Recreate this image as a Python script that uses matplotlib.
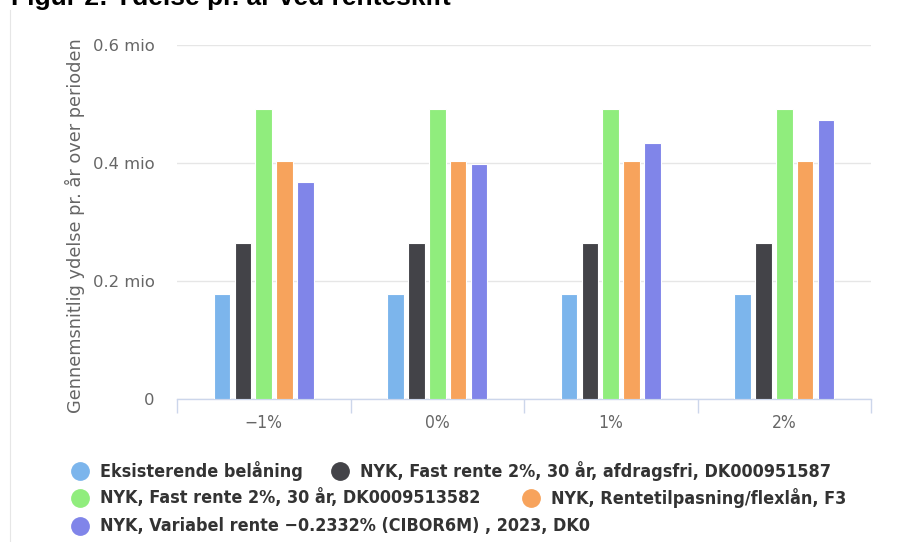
import numpy as np
import matplotlib.pyplot as plt
from matplotlib.lines import Line2D
from matplotlib.ticker import FuncFormatter, FixedLocator

# scenarios for the change in interest rate
scenarios = ['−1%', '0%', '1%', '2%']

# average payment per year, in millions
eksisterende = [0.178, 0.178, 0.178, 0.178]
fast_afdragsfri = [0.264, 0.264, 0.264, 0.264]
fast_30 = [0.491, 0.491, 0.491, 0.491]
flexlaan_f3 = [0.403, 0.403, 0.403, 0.403]
variabel = [0.367, 0.398, 0.434, 0.473]

series_names = [
    'Eksisterende belåning',
    'NYK, Fast rente 2%, 30 år, afdragsfri, DK000951587',
    'NYK, Fast rente 2%, 30 år, DK0009513582',
    'NYK, Rentetilpasning/flexlån, F3',
    'NYK, Variabel rente −0.2332% (CIBOR6M) , 2023, DK0',
]
series_values = [eksisterende, fast_afdragsfri, fast_30, flexlaan_f3, variabel]
colors = ['#7cb5ec', '#434348', '#90ed7d', '#f7a35c', '#8085e9']

W, H = 901, 542
fig = plt.figure(figsize=(W / 100, H / 100), dpi=100)
fig.patch.set_facecolor('white')

def px(x, y):
    return x / W, 1 - y / H

ax = fig.add_axes([177 / W, 1 - 399 / H, (871 - 177) / W, (399 - 45) / H])

x = np.arange(len(scenarios))
for i, (vals, c) in enumerate(zip(series_values, colors)):
    ax.bar(x + (i - 2) * 0.12, vals, width=0.096, color=c,
           edgecolor='white', linewidth=0.8, zorder=3)

ax.set_xlim(-0.5, len(scenarios) - 0.5)
ax.set_ylim(0, 0.6)

for s in ['top', 'right', 'left']:
    ax.spines[s].set_visible(False)
ax.spines['bottom'].set_color('#ccd6eb')
ax.spines['bottom'].set_linewidth(1)

# y axis
ax.set_yticks([0, 0.2, 0.4, 0.6])
ax.yaxis.set_major_formatter(FuncFormatter(lambda v, p: '0' if v == 0 else f'{v:.1f} mio'))
ax.tick_params(axis='y', length=0, pad=16, labelsize=11.8, labelcolor='#666666')
ax.grid(axis='y', color='#e6e6e6', linewidth=1, zorder=0)
ax.set_axisbelow(True)

ax.set_ylabel('Gennemsnitlig ydelse pr. år over perioden', fontsize=12.8,
              color='#666666')
ax.yaxis.set_label_coords((75 - 177) / (871 - 177), 0.49)
ax.yaxis.label.set_va('center')

# x axis: boundary ticks, labels at category centres
ax.xaxis.set_major_locator(FixedLocator(np.arange(-0.5, len(scenarios), 1)))
ax.xaxis.set_minor_locator(FixedLocator(x))
ax.set_xticklabels([])
ax.set_xticklabels(scenarios, minor=True)
ax.tick_params(axis='x', which='major', length=10, width=1, color='#ccd6eb')
ax.tick_params(axis='x', which='minor', length=0, pad=11, labelsize=12.5,
               labelcolor='#666666')
for lbl in ax.get_xticklabels(minor=True):
    lbl.set_fontstretch('condensed')

# title, cut off at the top edge
fig.text(*px(11, 5), 'Figur 2: Ydelse pr. år ved renteskift', fontsize=19,
         fontweight='bold', family=['Liberation Sans', 'DejaVu Sans'],
         va='baseline', ha='left', color='black')

# thin container border on the left
fig.add_artist(Line2D([9.5 / W, 9.5 / W], [0, 1 - 10 / H], color='#e6e6e6',
                      linewidth=0.8))

# legend laid out in flowing rows
legend_pos = [(80, 471), (340, 471), (80, 498), (531, 498), (80, 526)]
for (lx, ly), name, c in zip(legend_pos, series_names, colors):
    fx, fy = px(lx, ly)
    fig.add_artist(Line2D([fx], [fy], marker='o', markersize=12.5,
                          markerfacecolor=c, markeredgecolor=c, linestyle='none'))
    tx, ty = px(lx + 20, ly)
    fig.text(tx, ty, name, fontsize=12.9, fontweight='bold',
             fontstretch='condensed', color='#333333', va='center', ha='left')

fig.savefig('out.png', dpi=100, facecolor='white')
